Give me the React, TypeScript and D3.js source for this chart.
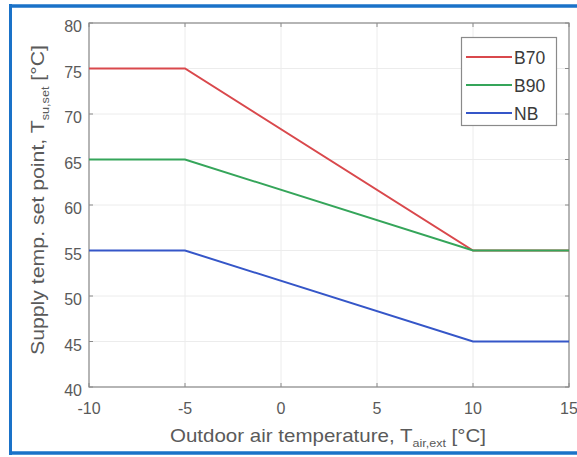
import React from "react";
import * as d3 from "d3";

const xBreaks = [-10, -5, 10, 15];
const seriesNames = ["B70", "B90", "NB"];
const b70 = [75, 75, 55, 55];
const b90 = [65, 65, 55, 55];
const nb = [55, 55, 45, 45];
const seriesValues = [b70, b90, nb];
const seriesColors = ["#d9484c", "#35a55a", "#3556c8"];
const xTicks = [-10, -5, 0, 5, 10, 15];
const yTicks = [40, 45, 50, 55, 60, 65, 70, 75, 80];

const W = 577;
const H = 457;
const left = 89;
const right = 569;
const top = 23;
const bottom = 387;

export default function App() {
  const x = d3.scaleLinear().domain([-10, 15]).range([left, right]);
  const y = d3.scaleLinear().domain([40, 80]).range([bottom, top]);
  const line = d3
    .line<[number, number]>()
    .x((d) => x(d[0]))
    .y((d) => y(d[1]));
  const font = "'Liberation Sans', Arial, sans-serif";
  const textCol = "#5a5a5a";
  return (
    <svg
      width={W}
      height={H}
      style={{ position: "absolute", left: 0, top: 0, background: "#fff" }}
      fontFamily={font}
    >
      {/* frame */}
      <rect x={0} y={0} width={W} height={H} fill="#fff" />
      <line x1={10.5} x2={10.5} y1={4} y2={455} stroke="#1a72c8" strokeWidth={3} />
      <line x1={9} x2={W} y1={6} y2={6} stroke="#1a72c8" strokeWidth={3.5} />
      <line x1={9} x2={W} y1={453} y2={453} stroke="#1a72c8" strokeWidth={3.5} />

      {/* grid */}
      {xTicks.map((t) => (
        <line key={"gx" + t} x1={x(t)} x2={x(t)} y1={top} y2={bottom} stroke="#ececec" strokeWidth={1} />
      ))}
      {yTicks.map((t) => (
        <line key={"gy" + t} x1={left} x2={right} y1={y(t)} y2={y(t)} stroke="#ececec" strokeWidth={1} />
      ))}

      {/* axes box */}
      <rect x={left} y={top} width={right - left} height={bottom - top} fill="none" stroke="#8a8a8a" strokeWidth={1.2} />
      {xTicks.map((t) => (
        <g key={"tx" + t}>
          <line x1={x(t)} x2={x(t)} y1={bottom} y2={bottom - 4} stroke="#8a8a8a" />
          <line x1={x(t)} x2={x(t)} y1={top} y2={top + 4} stroke="#8a8a8a" />
          <text x={x(t)} y={bottom + 27} textAnchor="middle" fontSize={16} fill={textCol}>
            {t}
          </text>
        </g>
      ))}
      {yTicks.map((t) => (
        <g key={"ty" + t}>
          <line x1={left} x2={left + 4} y1={y(t)} y2={y(t)} stroke="#8a8a8a" />
          <line x1={right} x2={right - 4} y1={y(t)} y2={y(t)} stroke="#8a8a8a" />
          <text x={82} y={y(t) + 9} textAnchor="end" fontSize={16} fill={textCol}>
            {t}
          </text>
        </g>
      ))}

      {/* series */}
      {seriesValues.map((vals, i) => (
        <path
          key={seriesNames[i]}
          d={line(xBreaks.map((xv, j) => [xv, vals[j]]) as [number, number][]) || ""}
          fill="none"
          stroke={seriesColors[i]}
          strokeWidth={2}
        />
      ))}

      {/* legend */}
      <rect x={461.5} y={37.5} width={95} height={88} fill="#fff" stroke="#8a8a8a" strokeWidth={1.2} />
      {seriesNames.map((n, i) => (
        <g key={"lg" + n}>
          <line x1={466} x2={512} y1={57 + i * 28} y2={57 + i * 28} stroke={seriesColors[i]} strokeWidth={2} />
          <text x={514} y={57 + i * 28 + 6.5} fontSize={17.5} fill="#3a3a3a">
            {n}
          </text>
        </g>
      ))}

      {/* axis labels */}
      <text
        transform="translate(328, 442) scale(1.14, 1)"
        textAnchor="middle"
        fontSize={18}
        fill={textCol}
      >
        Outdoor air temperature, T
        <tspan fontSize={11} dy={5}>air,ext</tspan>
        <tspan dy={-5}> [°C]</tspan>
      </text>
      <text
        transform={`translate(44, 200) rotate(-90) scale(1.15, 1)`}
        textAnchor="middle"
        fontSize={18.5}
        fill={textCol}
      >
        Supply temp. set point, T
        <tspan fontSize={11} dy={5}>su,set</tspan>
        <tspan dy={-5}> [°C]</tspan>
      </text>
    </svg>
  );
}
